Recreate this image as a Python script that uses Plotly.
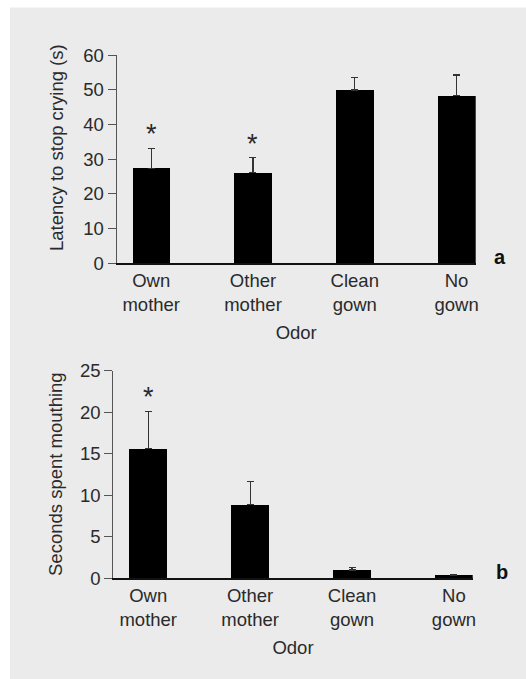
import plotly.graph_objects as go

categories = ["Own<br>mother", "Other<br>mother", "Clean<br>gown", "No<br>gown"]
latency_mean = [27.4, 26.1, 50.0, 48.3]
latency_err = [5.8, 4.4, 3.6, 6.0]
mouthing_mean = [15.65, 8.9, 1.0, 0.4]
mouthing_err = [4.45, 2.8, 0.3, None]
latency_sig = [True, True, False, False]
mouthing_sig = [True, False, False, False]
latency_ticks = [0, 10, 20, 30, 40, 50, 60]
mouthing_ticks = [0, 5, 10, 15, 20, 25]

W, H = 526, 679
FONT = "Liberation Sans, Arial, Helvetica, sans-serif"
TXT = "#2a2a2a"
FS = 18.5
xpos = list(range(len(categories)))

fig = go.Figure()
fig.add_trace(go.Bar(
    x=xpos, y=latency_mean, width=0.37, marker=dict(color="black", line=dict(width=0)),
    error_y=dict(type="data", array=latency_err, arrayminus=[0]*4, symmetric=False,
                 color="#333333", thickness=1.2, width=3.5),
    xaxis="x", yaxis="y", showlegend=False))
fig.add_trace(go.Bar(
    x=xpos, y=mouthing_mean, width=0.37, marker=dict(color="black", line=dict(width=0)),
    error_y=dict(type="data", array=mouthing_err, arrayminus=[0]*4, symmetric=False,
                 color="#333333", thickness=1.2, width=3.5),
    xaxis="x2", yaxis="y2", showlegend=False))

def px_x(p):
    return p / W

def px_y(p):
    return 1 - p / H

common_x = dict(tickmode="array", tickvals=xpos, ticktext=categories, showline=True,
                linecolor="#111111", linewidth=1.5, ticks="", showgrid=False, zeroline=False,
                automargin=False,
                tickfont=dict(family=FONT, size=FS, color=TXT),
                title=dict(text="Odor", font=dict(family=FONT, size=FS, color=TXT), standoff=12))
common_y = dict(showline=True, linecolor="#555555", linewidth=1.2, ticks="outside",
                ticklen=8, tickcolor="#555555", tickwidth=1.2, showgrid=False, zeroline=False,
                automargin=False,
                tickfont=dict(family=FONT, size=FS, color=TXT))

annotations = []
for i, s in enumerate(latency_sig):
    if s:
        annotations.append(dict(x=xpos[i], y=latency_mean[i] + latency_err[i], xref="x", yref="y",
                                text="*", showarrow=False, yanchor="bottom", yshift=-3,
                                font=dict(family=FONT, size=27, color=TXT)))
for i, s in enumerate(mouthing_sig):
    if s:
        annotations.append(dict(x=xpos[i], y=mouthing_mean[i] + mouthing_err[i], xref="x2", yref="y2",
                                text="*", showarrow=False, yanchor="bottom", yshift=-3,
                                font=dict(family=FONT, size=27, color=TXT)))
annotations.append(dict(x=px_x(500), y=px_y(257), xref="paper", yref="paper", text="<b>a</b>",
                        showarrow=False, xanchor="center", yanchor="middle",
                        font=dict(family=FONT, size=20, color="#111111")))
annotations.append(dict(x=px_x(502), y=px_y(572), xref="paper", yref="paper", text="<b>b</b>",
                        showarrow=False, xanchor="center", yanchor="middle",
                        font=dict(family=FONT, size=20, color="#111111")))
annotations.append(dict(x=px_x(56), y=px_y(148), xref="paper", yref="paper",
                        text="Latency to stop crying (s)", textangle=-90, showarrow=False,
                        xanchor="center", yanchor="middle",
                        font=dict(family=FONT, size=FS, color=TXT)))
annotations.append(dict(x=px_x(55), y=px_y(474), xref="paper", yref="paper",
                        text="Seconds spent mouthing", textangle=-90, showarrow=False,
                        xanchor="center", yanchor="middle",
                        font=dict(family=FONT, size=FS, color=TXT)))

fig.update_layout(
    template="none",
    width=W, height=H, margin=dict(l=0, r=0, t=0, b=0, pad=0), autosize=False,
    paper_bgcolor="white", plot_bgcolor="rgba(0,0,0,0)",
    xaxis=dict(domain=[px_x(116.7), px_x(475.7)], range=[-0.339, 3.188], anchor="y", **common_x),
    yaxis=dict(domain=[px_y(263.3), px_y(55.3)], range=[0, 60], tickvals=latency_ticks, anchor="x",
               **common_y),
    xaxis2=dict(domain=[px_x(113.3), px_x(472.7)], range=[-0.3425, 3.184], anchor="y2", **common_x),
    yaxis2=dict(domain=[px_y(578.3), px_y(370.7)], range=[0, 25], tickvals=mouthing_ticks, anchor="x2",
                **common_y),
    annotations=annotations,
    shapes=[dict(type="rect", xref="paper", yref="paper", x0=px_x(10), x1=1, y0=0, y1=px_y(7.5),
                 fillcolor="#ebebeb", line=dict(width=0), layer="below")],
    bargap=0,
)

fig.write_html("out.html", include_plotlyjs=True, config={"displayModeBar": False},
               post_script="document.body.style.margin='0';document.body.style.padding='0';"
                           "document.documentElement.style.overflow='hidden';document.body.style.overflow='hidden';")
